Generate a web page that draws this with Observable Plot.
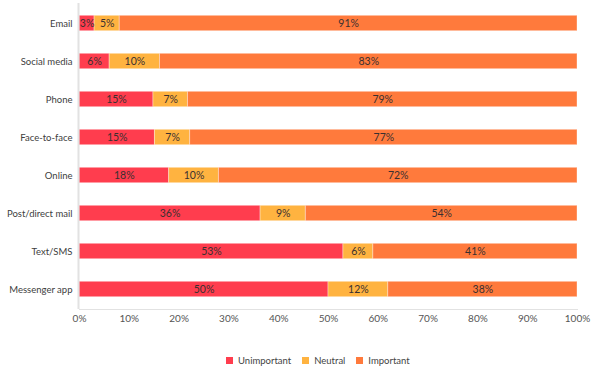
<!DOCTYPE html>
<html>
<head>
<meta charset="utf-8">
<script src="https://cdn.jsdelivr.net/npm/d3@7"></script>
<script src="https://cdn.jsdelivr.net/npm/@observablehq/plot@0.6"></script>
<style>
  body { margin: 0; background: #fff; font-family: Lato, "Open Sans", sans-serif; }
  #legend { display: flex; align-items: center; margin-left: 226px; margin-top: 21px; font-size: 9.5px; color: #444; }
  #legend .item { display: flex; align-items: center; margin-right: 11px; }
  #legend .sw { width: 7px; height: 7px; margin-right: 5px; }
</style>
</head>
<body>
<div id="chart"></div>
<div id="legend"></div>
<script>
const channels = ["Email", "Social media", "Phone", "Face-to-face", "Online", "Post/direct mail", "Text/SMS", "Messenger app"];
const seriesNames = ["Unimportant", "Neutral", "Important"];
const unimportant = [3, 6, 15, 15, 18, 36, 53, 50];
const neutral = [5, 10, 7, 7, 10, 9, 6, 12];
const important = [91, 83, 79, 77, 72, 54, 41, 38];
const colors = ["#ff3d4e", "#ffb340", "#ff7a3c"];
const xTicks = [0, 0.1, 0.2, 0.3, 0.4, 0.5, 0.6, 0.7, 0.8, 0.9, 1];

const seriesValues = [unimportant, neutral, important];
const data = [];
channels.forEach((c, i) => {
  seriesNames.forEach((s, j) => {
    data.push({channel: c, series: s, value: seriesValues[j][i]});
  });
});

const pct = d => Math.round(d * 100) + "%";

const plot = Plot.plot({
  width: 602,
  height: 334,
  marginLeft: 79,
  marginRight: 25,
  marginTop: 3,
  marginBottom: 25,
  style: {fontFamily: "Lato, 'Open Sans', sans-serif", fontSize: "10px", color: "#404040", background: "#fff"},
  x: {domain: [0, 1], label: null},
  y: {domain: channels, padding: 0, label: null},
  color: {domain: seriesNames, range: colors},
  marks: [
    Plot.barX(data, Plot.stackX({
      x: "value", y: "channel", z: "series", fill: "series", order: seriesNames, offset: "normalize",
      insetTop: 11.3, insetBottom: 11.3, stroke: "#fff", strokeOpacity: 0.35, strokeWidth: 1
    })),
    Plot.text(data, Plot.stackX({
      x: "value", y: "channel", z: "series", order: seriesNames, offset: "normalize",
      text: d => d.value + "%", fill: "#3a3030", fontSize: 10.5
    })),
    Plot.ruleX([0], {stroke: "#e2e2e2", strokeWidth: 2, dx: -1}),
    Plot.frame({anchor: "bottom", stroke: "#e2e2e2"}),
    Plot.axisY({tickSize: 0, tickPadding: 7, fill: "#404040", fontSize: 9.5}),
    Plot.axisX({ticks: xTicks, tickFormat: pct, tickSize: 0, tickPadding: 5, fill: "#555", fontSize: 10})
  ]
});
document.getElementById("chart").appendChild(plot);

const legend = document.getElementById("legend");
seriesNames.forEach((s, j) => {
  const item = document.createElement("div");
  item.className = "item";
  const sw = document.createElement("div");
  sw.className = "sw";
  sw.style.background = colors[j];
  const lab = document.createElement("span");
  lab.textContent = s;
  item.appendChild(sw);
  item.appendChild(lab);
  legend.appendChild(item);
});
</script>
</body>
</html>
